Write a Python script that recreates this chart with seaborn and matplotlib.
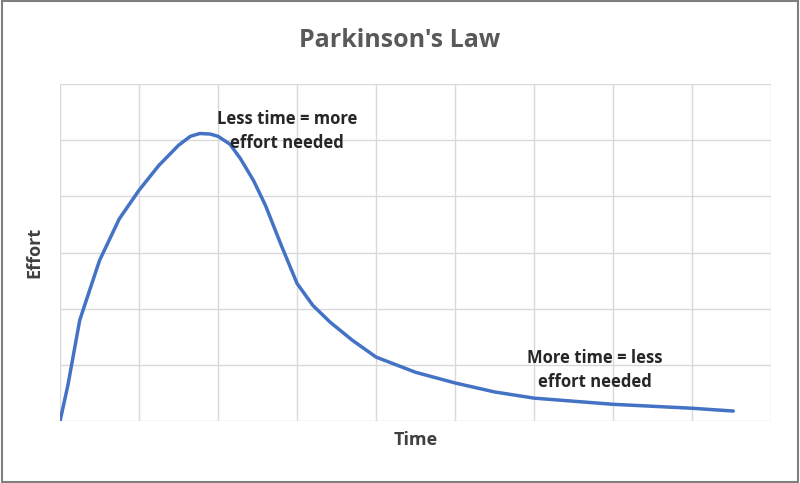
import matplotlib
matplotlib.use("Agg")
import matplotlib.pyplot as plt
import seaborn as sns
import pandas as pd

time = [0, 0.1, 0.25, 0.5, 0.75, 1.0, 1.25, 1.5, 1.65, 1.77, 1.9, 2.0, 2.15, 2.28, 2.45, 2.6, 2.8, 3.0, 3.2, 3.42, 3.7, 4.0, 4.5, 5.0, 5.5, 6.0, 7.0, 8.0, 8.52]
effort = [0, 0.64, 1.8, 2.86, 3.6, 4.11, 4.55, 4.91, 5.07, 5.12, 5.11, 5.07, 4.93, 4.68, 4.28, 3.84, 3.13, 2.45, 2.06, 1.76, 1.44, 1.14, 0.87, 0.68, 0.52, 0.41, 0.30, 0.23, 0.18]
df = pd.DataFrame({"Time": time, "Effort": effort})

sns.set_style("white")
plt.rcParams['font.family'] = ['Open Sans', 'DejaVu Sans']
fig = plt.figure(figsize=(8, 4.83), dpi=100)
ax = fig.add_axes([0.075, 0.128, 0.889, 0.698])
sns.lineplot(data=df, x="Time", y="Effort", ax=ax, color="#4472C4", linewidth=2.5)
for l in ax.lines:
    l.set_solid_joinstyle("round")
    l.set_solid_capstyle("round")
ax.set_xlim(0, 9)
ax.set_ylim(0, 6)
ax.set_xticks(range(0, 10))
ax.set_yticks(range(0, 7))
ax.grid(True, color="#d9d9d9", linewidth=1)
ax.tick_params(length=0, labelbottom=False, labelleft=False)
for s in ax.spines.values():
    s.set_visible(False)
ax.set_xlabel("Time", fontsize=13, fontweight="bold", color="#404040", labelpad=7)
ax.set_ylabel("Effort", fontsize=13, fontweight="bold", color="#404040", labelpad=12)
fig.text(0.5, 0.917, "Parkinson's Law", ha="center", va="center", fontsize=18, fontweight="bold", color="#595959")
ax.text(2.87, 5.16, "Less time = more\neffort needed", ha="center", va="center", fontsize=12, fontweight="bold", color="#262626", linespacing=1.4)
ax.text(6.77, 0.91, "More time = less\neffort needed", ha="center", va="center", fontsize=12, fontweight="bold", color="#262626", linespacing=1.4)
fig.patches.append(plt.Rectangle((0.002, 0.003), 0.996, 0.994, transform=fig.transFigure, fill=False, edgecolor="#7f7f7f", linewidth=1.5))
fig.savefig("out.png", dpi=100)
